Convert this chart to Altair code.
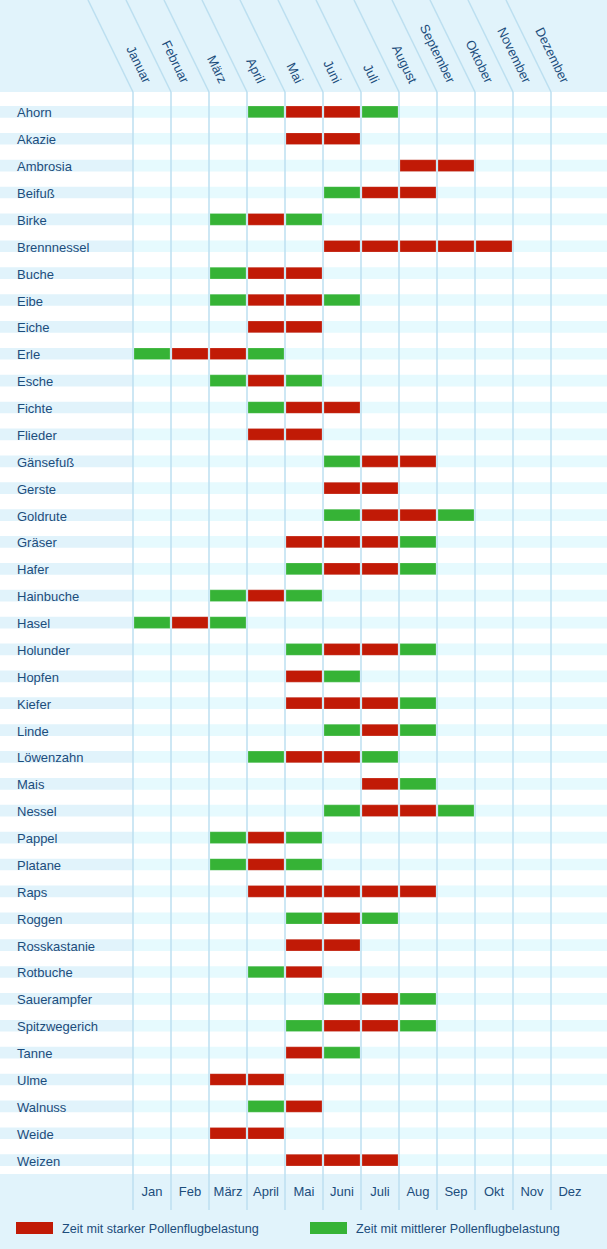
import altair as alt
import pandas as pd

# ---------------- data ----------------
plants = ["Ahorn", "Akazie", "Ambrosia", "Beifuß", "Birke", "Brennnessel", "Buche", "Eibe",
          "Eiche", "Erle", "Esche", "Fichte", "Flieder", "Gänsefuß", "Gerste", "Goldrute",
          "Gräser", "Hafer", "Hainbuche", "Hasel", "Holunder", "Hopfen", "Kiefer", "Linde",
          "Löwenzahn", "Mais", "Nessel", "Pappel", "Platane", "Raps", "Roggen", "Rosskastanie",
          "Rotbuche", "Sauerampfer", "Spitzwegerich", "Tanne", "Ulme", "Walnuss", "Weide", "Weizen"]

months_long = ["Januar", "Februar", "März", "April", "Mai", "Juni", "Juli", "August",
               "September", "Oktober", "November", "Dezember"]
months_short = ["Jan", "Feb", "März", "April", "Mai", "Juni", "Juli", "Aug", "Sep", "Okt", "Nov", "Dez"]

# months (1-12) with strong ("stark") and medium ("mittel") pollen load, per plant
strong = {
    "Ahorn": [5, 6], "Akazie": [5, 6], "Ambrosia": [8, 9], "Beifuß": [7, 8], "Birke": [4],
    "Brennnessel": [6, 7, 8, 9, 10], "Buche": [4, 5], "Eibe": [4, 5], "Eiche": [4, 5],
    "Erle": [2, 3], "Esche": [4], "Fichte": [5, 6], "Flieder": [4, 5], "Gänsefuß": [7, 8],
    "Gerste": [6, 7], "Goldrute": [7, 8], "Gräser": [5, 6, 7], "Hafer": [6, 7], "Hainbuche": [4],
    "Hasel": [2], "Holunder": [6, 7], "Hopfen": [5], "Kiefer": [5, 6, 7], "Linde": [7],
    "Löwenzahn": [5, 6], "Mais": [7], "Nessel": [7, 8], "Pappel": [4], "Platane": [4],
    "Raps": [4, 5, 6, 7, 8], "Roggen": [6], "Rosskastanie": [5, 6], "Rotbuche": [5],
    "Sauerampfer": [7], "Spitzwegerich": [6, 7], "Tanne": [5], "Ulme": [3, 4], "Walnuss": [5],
    "Weide": [3, 4], "Weizen": [5, 6, 7],
}
medium = {
    "Ahorn": [4, 7], "Akazie": [], "Ambrosia": [], "Beifuß": [6], "Birke": [3, 5],
    "Brennnessel": [], "Buche": [3], "Eibe": [3, 6], "Eiche": [], "Erle": [1, 4],
    "Esche": [3, 5], "Fichte": [4], "Flieder": [], "Gänsefuß": [6], "Gerste": [],
    "Goldrute": [6, 9], "Gräser": [8], "Hafer": [5, 8], "Hainbuche": [3, 5], "Hasel": [1, 3],
    "Holunder": [5, 8], "Hopfen": [6], "Kiefer": [8], "Linde": [6, 8], "Löwenzahn": [4, 7],
    "Mais": [8], "Nessel": [6, 9], "Pappel": [3, 5], "Platane": [3, 5], "Raps": [],
    "Roggen": [5, 7], "Rosskastanie": [], "Rotbuche": [4], "Sauerampfer": [6, 8],
    "Spitzwegerich": [5, 8], "Tanne": [6], "Ulme": [], "Walnuss": [4], "Weide": [],
    "Weizen": [],
}

levels = ["stark", "mittel"]
legend_labels = ["Zeit mit starker Pollenflugbelastung", "Zeit mit mittlerer Pollenflugbelastung"]
level_colors = ["#c11a06", "#36b336"]

# ---------------- tables ----------------
rows = []
for p in plants:
    for m in strong[p]:
        rows.append({"plant": p, "start": m - 1, "end": m, "level": "stark"})
    for m in medium[p]:
        rows.append({"plant": p, "start": m - 1, "end": m, "level": "mittel"})
bars_df = pd.DataFrame(rows)
plants_df = pd.DataFrame({"plant": plants})
months_df = pd.DataFrame({"k": list(range(12)), "mid": [k + 0.5 for k in range(12)],
                          "long": months_long, "short": months_short})
legend_df = pd.DataFrame({"level": levels, "label": legend_labels})

# ---------------- styles ----------------
W, H = 607, 1249
TEXT = "#1c4d7c"
GRID = "#bcdff0"
PALE = "#e1f3fb"
STRIPE = "#e6fafe"
FONT = "Liberation Sans"
FS = 13

xs = alt.Scale(domain=[0, 12], range=[133, 589], zero=False, nice=False)
ys = alt.Scale(domain=plants, range=[106, 1166], paddingInner=0.565, paddingOuter=0)
cs = alt.Scale(domain=levels, range=level_colors)

X = lambda f: alt.X(f, type="quantitative", scale=xs, axis=None)
Y = alt.Y("plant:N", scale=ys, axis=None, sort=plants)
one = alt.Data(values=[{}])

# header & footer backgrounds
header_bg = alt.Chart(one).mark_rect(color=PALE).encode(
    x=alt.value(0), x2=alt.value(W), y=alt.value(0), y2=alt.value(92))
footer_bg = alt.Chart(one).mark_rect(color=PALE).encode(
    x=alt.value(0), x2=alt.value(W), y=alt.value(1174), y2=alt.value(H))

# row stripes
stripe_left = alt.Chart(plants_df).mark_rect(color=PALE).encode(
    x=alt.value(0), x2=alt.value(133), y=Y)
stripe_right = alt.Chart(plants_df).mark_rect(color=STRIPE).encode(
    x=alt.value(133), x2=alt.value(W), y=Y)

# vertical grid lines
grid = alt.Chart(months_df).mark_rule(color=GRID, strokeWidth=1.5).encode(
    x=X("k"), y=alt.value(92), y2=alt.value(1210))
# slanted header lines
slant = alt.Chart(months_df).mark_rule(color=GRID, strokeWidth=1.5, xOffset=-45).encode(
    x=X("k"), x2=alt.X2("k"), y=alt.value(0), y2=alt.value(92))

# bars
bars = alt.Chart(bars_df).mark_rect(xOffset=1, x2Offset=-1, stroke="#ffffff",
                                    strokeOpacity=0.35, strokeWidth=0.6).encode(
    x=X("start"), x2="end", y=Y,
    color=alt.Color("level:N", scale=cs, legend=None))

# plant labels
plant_text = alt.Chart(plants_df).mark_text(
    align="left", baseline="middle", font=FONT, fontSize=FS, color=TEXT, dy=1.5).encode(
    x=alt.value(17), y=Y, text="plant:N")

# header month labels (rotated)
head_text = alt.Chart(months_df).mark_text(
    align="right", baseline="middle", angle=64, font=FONT, fontSize=FS, color=TEXT,
    xOffset=-5).encode(
    x=X("mid"), y=alt.value(82.5), text="long:N")

# footer month labels
foot_text = alt.Chart(months_df).mark_text(
    align="center", baseline="middle", font=FONT, fontSize=FS, color=TEXT).encode(
    x=X("mid"), y=alt.value(1191.5), text="short:N")

# legend
leg_layers = []
for lv, xr, xt in [("stark", 16, 62), ("mittel", 310, 356)]:
    base = alt.Chart(legend_df).transform_filter(alt.datum.level == lv)
    leg_layers.append(base.mark_rect().encode(
        x=alt.value(xr), x2=alt.value(xr + 37), y=alt.value(1222), y2=alt.value(1234),
        color=alt.Color("level:N", scale=cs, legend=None)))
    leg_layers.append(base.mark_text(
        align="left", baseline="middle", font=FONT, fontSize=12.6, color=TEXT).encode(
        x=alt.value(xt), y=alt.value(1228.5), text="label:N"))

chart = alt.layer(
    header_bg, footer_bg, stripe_left, stripe_right, grid, slant, bars,
    plant_text, head_text, foot_text, *leg_layers
).properties(
    width=W, height=H, padding=0, autosize=alt.AutoSizeParams(type="none"),
    background="#ffffff"
).configure_view(stroke=None)

chart.save("out.html", embed_options={"renderer": "svg", "actions": False})
